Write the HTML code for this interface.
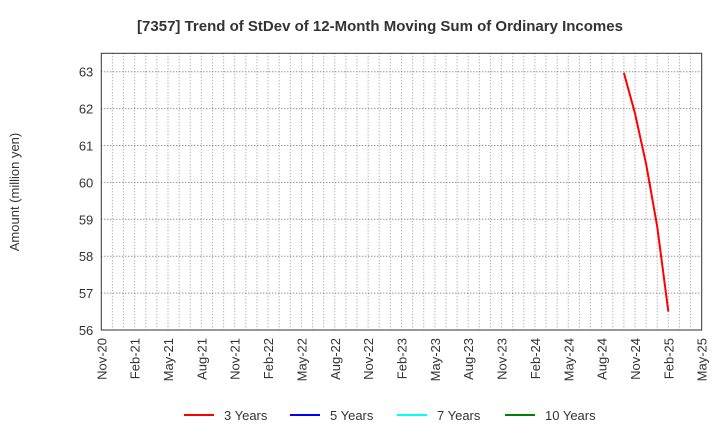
<!DOCTYPE html>
<html><head><meta charset="utf-8"><style>
body{margin:0;background:#fff;font-family:"Liberation Sans",Arial,sans-serif}
</style></head><body>
<svg width="720" height="440" xmlns="http://www.w3.org/2000/svg">
<text x="380" y="31" text-anchor="middle" font-size="15" font-weight="bold" fill="#333">[7357]  Trend of StDev of 12-Month Moving Sum of Ordinary Incomes</text>
<text transform="translate(19,192) rotate(-90)" text-anchor="middle" font-size="13" fill="#333">Amount (million yen)</text>
<g id="grid"></g>
<g id="marks"></g>
<rect x="101.3" y="53.3" width="600.4" height="276.7" fill="none" stroke="#333" stroke-width="1"/>
<g id="legend"></g>
</svg>
<script>
const xLabels=["Nov-20","Feb-21","May-21","Aug-21","Nov-21","Feb-22","May-22","Aug-22","Nov-22","Feb-23","May-23","Aug-23","Nov-23","Feb-24","May-24","Aug-24","Nov-24","Feb-25","May-25"];
const yTicks=[56,57,58,59,60,61,62,63];
const months3=[47,48,49,50,51];
const values3=[62.97,61.87,60.5,58.8,56.5];
const seriesNames=["3 Years","5 Years","7 Years","10 Years"];
const seriesColors=["#ff0000","#0000ff","#00ffff","#008000"];
const NS="http://www.w3.org/2000/svg";
const L=101.3,R=701.7,T=53.3,B=330;
const xs=m=>L+m*(R-L)/54;
const ys=v=>B-(v-56)*(B-71.7)/7;
const grid=document.getElementById('grid'),marks=document.getElementById('marks'),leg=document.getElementById('legend');
function mk(tag,a,p){const e=document.createElementNS(NS,tag);for(const k in a)e.setAttribute(k,a[k]);p.appendChild(e);return e;}
for(let m=1;m<54;m++){const l=mk('line',{x1:xs(m),x2:xs(m),y1:T,y2:B,stroke:'#999','stroke-dasharray':'1,2','stroke-width':1},grid);

}
yTicks.forEach(v=>{if(v>56){const l=mk('line',{x1:L,x2:R,y1:ys(v),y2:ys(v),stroke:'#666','stroke-dasharray':'1,2','stroke-width':1},grid);

}
const t=mk('text',{x:L-8,y:ys(v)+5,'text-anchor':'end','font-size':13,fill:'#333'},grid);t.textContent=v;

});
xLabels.forEach((s,i)=>{const x=xs(i*3);const t=mk('text',{transform:`translate(${x+5},${B+8}) rotate(-90)`,'text-anchor':'end','font-size':13,fill:'#333'},grid);t.textContent=s;

});
const pts=months3.map((m,i)=>xs(m)+','+ys(values3[i])).join(' ');
const pl=mk('polyline',{points:pts,fill:'none',stroke:'#ff0000','stroke-width':2},marks);


const lx=[184,290,397,505];
seriesNames.forEach((n,i)=>{const g=mk('g',{},leg);


mk('line',{x1:lx[i],x2:lx[i]+30,y1:415,y2:415,stroke:seriesColors[i],'stroke-width':2},g);
const t=mk('text',{x:lx[i]+40,y:420,'font-size':13,fill:'#333'},g);t.textContent=n;});
</script>
</body></html>
